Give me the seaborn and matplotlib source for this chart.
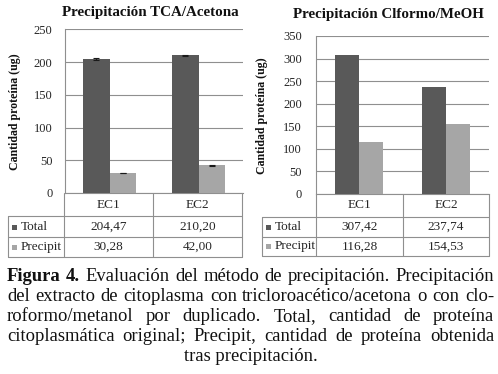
import matplotlib
matplotlib.use('Agg')
import matplotlib.pyplot as plt
import pandas as pd
import seaborn as sns

# data
categories = ['EC1', 'EC2']
series = ['Total', 'Precipit']

tca_total = [204.47, 210.20]
tca_precipit = [30.28, 42.00]
tca_total_err = [1.0, 1.2]
tca_precipit_err = [0.4, 0.5]

clf_total = [307.42, 237.74]
clf_precipit = [116.28, 154.53]

tca_ticks = [0, 50, 100, 150, 200, 250]
clf_ticks = [0, 50, 100, 150, 200, 250, 300, 350]

tca_labels = [['204,47', '210,20'], ['30,28', '42,00']]
clf_labels = [['307,42', '237,74'], ['116,28', '154,53']]

caption = [
    "Figura 4. Evaluación del método de precipitación. Precipitación",
    "del extracto de citoplasma con tricloroacético/acetona o con clo-",
    "roformo/metanol por duplicado. Total, cantidad de proteína",
    "citoplasmática original; Precipit, cantidad de proteína obtenida",
    "tras precipitación.",
]

colors = {'Total': '#595959', 'Precipit': '#a6a6a6'}
grid_col = '#8f8f8f'
text_col = '#262626'

sns.set_style('white')
plt.rcParams['font.family'] = ['Liberation Serif', 'DejaVu Serif']

W, H = 498, 374
fig = plt.figure(figsize=(W / 100, H / 100), dpi=100)


def fx(x):
    return x / W


def fy(y):
    return 1 - y / H


def draw_chart(ax_box, totals, precs, ticks, title, title_x, title_y,
               label_x, label_y, width, table, cell_labels, errs=None, pad=9):
    left, top, right, bottom = ax_box
    ax = fig.add_axes([fx(left), fy(bottom), fx(right - left), (bottom - top) / H])
    df = pd.DataFrame({
        'cat': categories * 2,
        'serie': [series[0]] * 2 + [series[1]] * 2,
        'val': totals + precs,
    })
    sns.barplot(data=df, x='cat', y='val', hue='serie', palette=colors,
                width=width, saturation=1, errorbar=None, legend=False, ax=ax,
                linewidth=0, zorder=3)
    if errs is not None:
        for cont, vals, err in zip(ax.containers, [totals, precs], errs):
            xs = [p.get_x() + p.get_width() / 2 for p in cont]
            ax.errorbar(xs, vals, yerr=err, fmt='none', ecolor='#1a1a1a',
                        elinewidth=0.8, capsize=2.2, capthick=0.8, zorder=4)
    ax.set_xlim(-0.5, 1.5)
    ax.set_ylim(ticks[0], ticks[-1])
    ax.set_yticks(ticks)
    ax.set_yticklabels([str(t) for t in ticks], fontsize=9, color=text_col)
    ax.tick_params(axis='y', length=0, pad=pad)
    ax.set_xticks([])
    ax.set_xlabel('')
    ax.set_ylabel('')
    ax.yaxis.grid(True, color=grid_col, linewidth=0.8, zorder=0)
    for s in ['top', 'right']:
        ax.spines[s].set_visible(False)
    for s in ['left', 'bottom']:
        ax.spines[s].set_color(grid_col)
        ax.spines[s].set_linewidth(0.8)
    ax.set_facecolor('white')

    fig.text(fx(title_x), fy(title_y), title, ha='center', va='center',
             fontsize=10.8, fontweight='bold', color='#111111')
    fig.text(fx(label_x), fy(label_y), 'Cantidad proteína (ug)',
             rotation=90, ha='center', va='center', fontsize=8.6,
             fontweight='bold', color='#111111')

    # data table under the plot
    x0, xc1, xmid, xc2, r0, r1, r2, r3 = table
    lw = dict(color=grid_col, linewidth=0.8)
    for x in [xc1, xmid, xc2]:
        fig.add_artist(plt.Line2D([fx(x), fx(x)], [fy(r0), fy(r3)], **lw))
    fig.add_artist(plt.Line2D([fx(x0), fx(x0)], [fy(r1), fy(r3)], **lw))
    for y in [r1, r2, r3]:
        fig.add_artist(plt.Line2D([fx(x0), fx(xc2)], [fy(y), fy(y)], **lw))
    centers = [(xc1 + xmid) / 2, (xmid + xc2) / 2]
    for c, cat in zip(centers, categories):
        fig.text(fx(c), fy((r0 + r1) / 2), cat, ha='center', va='center',
                 fontsize=9.5, color=text_col)
    rows = [(r1 + r2) / 2, (r2 + r3) / 2]
    for ry, name, labs in zip(rows, series, cell_labels):
        fig.add_artist(plt.Rectangle((fx(x0 + 4), fy(ry + 3)), 5 / W, 5 / H,
                                     color=colors[name], linewidth=0))
        fig.text(fx(x0 + 13), fy(ry), name, ha='left', va='center',
                 fontsize=9.5, color=text_col)
        for c, lab in zip(centers, labs):
            fig.text(fx(c), fy(ry), lab, ha='center', va='center',
                     fontsize=9.5, color=text_col)
    return ax


draw_chart((65, 29.3, 243, 193), tca_total, tca_precipit, tca_ticks,
           'Precipitación TCA/Acetona', 150, 12.5, 15, 112, 0.6,
           (8, 64, 153, 242, 193, 216, 237, 257), tca_labels,
           errs=[tca_total_err, tca_precipit_err], pad=9)
draw_chart((316, 36, 489, 194), clf_total, clf_precipit, clf_ticks,
           'Precipitación Clformo/MeOH', 388, 14.5, 262, 116, 0.56,
           (262, 316, 403, 489, 194, 217, 236.5, 256), clf_labels, pad=10)

# justified caption
renderer = fig.canvas.get_renderer()
cap_left, cap_right = 7, 494
cap_size = 13.4
baselines = [281, 301, 321, 341, 361]
for i, (line, base) in enumerate(zip(caption, baselines)):
    if i == len(caption) - 1:
        fig.text(fx((cap_left + cap_right) / 2), fy(base), line, ha='center',
                 va='baseline', fontsize=cap_size, color='#111111')
        continue
    words = line.split(' ')
    texts = []
    for j, w in enumerate(words):
        bold = (i == 0 and j < 2)
        t = fig.text(0, fy(base), w, ha='left', va='baseline', fontsize=cap_size,
                     fontweight='bold' if bold else 'normal', color='#111111')
        texts.append(t)
    widths = [t.get_window_extent(renderer).width for t in texts]
    gap = (cap_right - cap_left - sum(widths)) / (len(words) - 1)
    x = cap_left
    for t, wdt in zip(texts, widths):
        t.set_x(fx(x))
        x += wdt + gap

fig.savefig('out.png', dpi=100, facecolor='white')
